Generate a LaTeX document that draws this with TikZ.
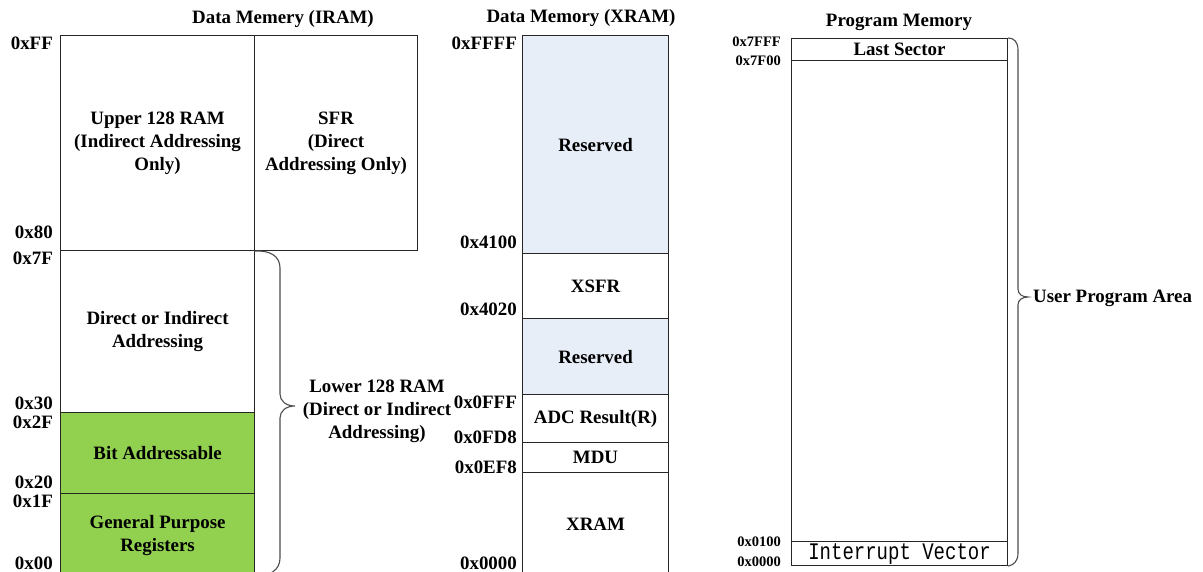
\documentclass[tikz,border=0pt]{standalone}
\usepackage{fontspec}
\usepackage{graphicx}
\setmainfont{Liberation Serif}
\newfontfamily\vecfont{Liberation Mono}
\usepackage{tikz}

\definecolor{bitgreen}{HTML}{92D050}
\definecolor{resblue}{HTML}{E8EEF8}

\tikzset{
    cell/.style={draw=black!85, line width=1.1pt, anchor=north west, inner sep=0pt,
        align=center, font=\bfseries\fontsize{18.9}{23}\selectfont},
    addr/.style={anchor=east, inner sep=0pt, font=\bfseries\fontsize{18.9}{23}\selectfont},
    paddr/.style={anchor=east, inner sep=0pt, font=\bfseries\fontsize{14.5}{17}\selectfont},
    memtitle/.style={inner sep=0pt, font=\bfseries\fontsize{18.9}{23}\selectfont},
    curly/.style={draw=black!70, line width=1.1pt},
}

\begin{document}
\begin{tikzpicture}[x=1pt, y=-1pt]
    \fill[white] (0,0) rectangle (1203,571);
    \useasboundingbox (0,0) rectangle (1203,571);

    % Data Memory (IRAM)
    \node[memtitle] (iramtitle) at (283,19) {Data Memery (IRAM)};
    \node[cell, minimum width=194pt, minimum height=215pt] (upper) at (60,35) {Upper 128 RAM\\(Indirect Addressing\\Only)};
    \node[cell, minimum width=163pt, minimum height=215pt] (sfr) at (254,35) {SFR\\(Direct\\Addressing Only)};
    \node[cell, minimum width=194pt, minimum height=162pt] (direct) at (60,250) {Direct or Indirect\\Addressing};
    \node[cell, fill=bitgreen, minimum width=194pt, minimum height=81pt] (bitaddr) at (60,412) {Bit Addressable};
    \node[cell, fill=bitgreen, minimum width=194pt, minimum height=83pt] (gpr) at (60,493) {General Purpose\\Registers};

    \node[addr] (aFF) at (53,43) {0xFF};
    \node[addr] (a80) at (53,232) {0x80};
    \node[addr] (a7F) at (53,258) {0x7F};
    \node[addr] (a30) at (53,403) {0x30};
    \node[addr] (a2F) at (53,422) {0x2F};
    \node[addr] (a20) at (53,482) {0x20};
    \node[addr] (a1F) at (53,501) {0x1F};
    \node[addr] (a00) at (53,563) {0x00};

    % Lower 128 RAM brace
    \draw[curly] (sfr.south west) .. controls (270,250) and (280,256) .. (280,268) -- (280,394)
        .. controls (280,401) and (286,406) .. (295,406)
        .. controls (286,406) and (280,411) .. (280,418) -- (280,558)
        .. controls (280,570) and (270,576) .. (gpr.south east);
    \node[memtitle, align=center] (lower) at (377,411) {Lower 128 RAM\\(Direct or Indirect\\Addressing)};

    % Data Memory (XRAM)
    \node[memtitle] (xramtitle) at (581,18) {Data Memory (XRAM)};
    \node[cell, fill=resblue, minimum width=146pt, minimum height=218pt] (res1) at (522,35) {Reserved};
    \node[cell, minimum width=146pt, minimum height=65pt] (xsfr) at (522,253) {XSFR};
    \node[cell, fill=resblue, minimum width=146pt, minimum height=76pt] (res2) at (522,318) {Reserved};
    \node[cell, minimum width=146pt, minimum height=48pt] (adc) at (522,394) {ADC Result(R)};
    \node[cell, minimum width=146pt, minimum height=30pt] (mdu) at (522,442) {MDU};
    \node[cell, minimum width=146pt, minimum height=104pt] (xram) at (522,472) {XRAM};

    \node[addr] (aFFFF) at (517,43) {0xFFFF};
    \node[addr] (a4100) at (517,242) {0x4100};
    \node[addr] (a4020) at (517,309) {0x4020};
    \node[addr] (a0FFF) at (517,402) {0x0FFF};
    \node[addr] (a0FD8) at (517,437) {0x0FD8};
    \node[addr] (a0EF8) at (517,467) {0x0EF8};
    \node[addr] (a0000) at (517,563) {0x0000};

    % Program Memory
    \node[memtitle] (progtitle) at (899,22) {Program Memory};
    \node[cell, minimum width=216pt, minimum height=22pt] (last) at (791,38) {Last Sector};
    \node[cell, minimum width=216pt, minimum height=481pt] (user) at (791,60) {};
    \node[cell, font=\vecfont\fontsize{19}{22}\selectfont, minimum width=216pt, minimum height=24pt] (intvec) at (791,541) {\scalebox{1}[1.25]{Interrupt Vector}};

    \node[paddr] (p7FFF) at (781,42) {0x7FFF};
    \node[paddr] (p7F00) at (781,61) {0x7F00};
    \node[paddr] (p0100) at (781,542) {0x0100};
    \node[paddr] (p0000) at (781,562) {0x0000};

    % User Program Area brace
    \draw[curly] (last.north east) .. controls (1014,38) and (1018,42) .. (1018,50) -- (1018,289)
        .. controls (1018,294) and (1022,297) .. (1028,297)
        .. controls (1022,297) and (1018,300) .. (1018,305) -- (1018,553)
        .. controls (1018,561) and (1014,565) .. (intvec.south east);
    \node[memtitle, anchor=west] (userarea) at (1033,298) {User Program Area};
\end{tikzpicture}
\end{document}
